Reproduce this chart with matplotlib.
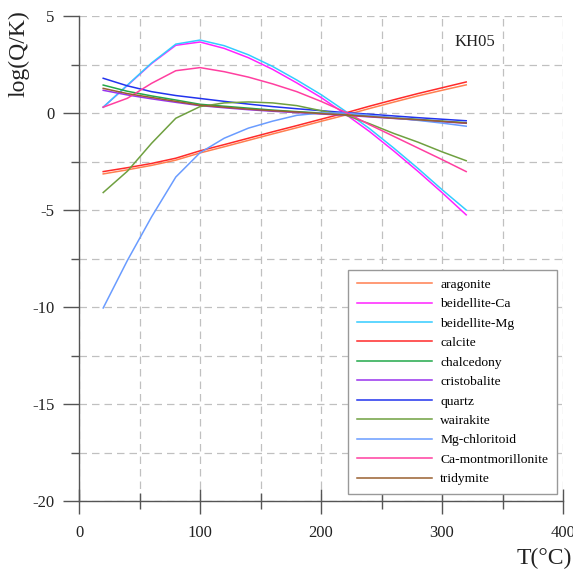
import matplotlib
matplotlib.use("Agg")
import matplotlib.pyplot as plt
from matplotlib.ticker import MultipleLocator

plt.rcParams['font.family'] = ['Liberation Serif', 'DejaVu Serif']
plt.rcParams['axes.unicode_minus'] = False

T = [20, 40, 60, 80, 100, 120, 140, 160, 180, 200, 220, 240, 260, 280, 300, 320]

aragonite = [-3.14, -2.93, -2.70, -2.43, -2.06, -1.74, -1.41, -1.08, -0.76, -0.43, -0.11, 0.23, 0.56, 0.88, 1.17, 1.45]
beidellite_ca = [0.30, 1.42, 2.55, 3.49, 3.66, 3.33, 2.85, 2.25, 1.55, 0.80, -0.05, -0.95, -1.95, -3.00, -4.10, -5.25]
beidellite_mg = [0.30, 1.44, 2.58, 3.55, 3.76, 3.47, 3.00, 2.40, 1.70, 0.95, 0.10, -0.80, -1.80, -2.85, -3.95, -5.00]
calcite = [-3.02, -2.82, -2.60, -2.33, -1.95, -1.63, -1.30, -0.97, -0.65, -0.32, 0.00, 0.35, 0.68, 1.00, 1.30, 1.60]
chalcedony = [1.44, 1.12, 0.88, 0.67, 0.45, 0.35, 0.25, 0.15, 0.07, 0.00, -0.07, -0.15, -0.25, -0.33, -0.42, -0.50]
cristobalite = [1.17, 0.93, 0.73, 0.55, 0.38, 0.27, 0.17, 0.09, 0.02, -0.05, -0.12, -0.20, -0.28, -0.36, -0.45, -0.53]
quartz = [1.79, 1.40, 1.10, 0.90, 0.75, 0.60, 0.46, 0.33, 0.22, 0.12, 0.02, -0.06, -0.15, -0.24, -0.32, -0.40]
wairakite = [-4.10, -3.00, -1.56, -0.27, 0.33, 0.52, 0.57, 0.52, 0.38, 0.12, -0.10, -0.55, -1.05, -1.50, -2.00, -2.46]
mg_chloritoid = [-10.05, -7.60, -5.35, -3.30, -2.05, -1.30, -0.78, -0.42, -0.12, 0.00, 0.00, -0.12, -0.25, -0.38, -0.52, -0.68]
ca_montmorillonite = [0.30, 0.76, 1.53, 2.18, 2.34, 2.13, 1.85, 1.50, 1.10, 0.60, 0.05, -0.60, -1.20, -1.80, -2.40, -3.02]
tridymite = [1.27, 1.00, 0.80, 0.60, 0.40, 0.30, 0.20, 0.12, 0.05, -0.03, -0.10, -0.18, -0.27, -0.35, -0.43, -0.52]

names = ["aragonite", "beidellite-Ca", "beidellite-Mg", "calcite", "chalcedony", "cristobalite",
         "quartz", "wairakite", "Mg-chloritoid", "Ca-montmorillonite", "tridymite"]
series = [aragonite, beidellite_ca, beidellite_mg, calcite, chalcedony, cristobalite,
          quartz, wairakite, mg_chloritoid, ca_montmorillonite, tridymite]
colors = ["#ff7f50", "#ff22ff", "#33ccff", "#ff2a2a", "#22a84a", "#9933ee",
          "#2233ee", "#6fa040", "#6a9cff", "#ff3fa0", "#9a6030"]

fig = plt.figure(figsize=(5.73, 5.72), dpi=100)
ax = fig.add_axes([79/573, 1-501/572, 484/573, 485/572])

for name, vals, c in zip(names, series, colors):
    ax.plot(T, vals, color=c, lw=1.1, label=name)

ax.set_xlim(0, 400)
ax.set_ylim(-20, 5)
ax.xaxis.set_major_locator(MultipleLocator(100))
ax.xaxis.set_minor_locator(MultipleLocator(50))
ax.yaxis.set_major_locator(MultipleLocator(5))
ax.yaxis.set_minor_locator(MultipleLocator(2.5))

ax.grid(which='both', color='#c0c0c0', linestyle=(0, (6, 4)), linewidth=0.9)
ax.set_axisbelow(True)

for s in ['top', 'right']:
    ax.spines[s].set_visible(False)
for s in ['left', 'bottom']:
    ax.spines[s].set_color('#555555')
    ax.spines[s].set_linewidth(1.0)

ax.tick_params(axis='x', which='major', direction='inout', length=18, width=1.0, color='#555555',
               labelsize=12, pad=8, labelcolor='#222222')
ax.tick_params(axis='x', which='minor', direction='inout', length=11, width=1.0, color='#555555')
ax.tick_params(axis='y', which='major', direction='out', length=11.5, width=1.0, color='#555555',
               labelsize=12, pad=6, labelcolor='#222222')
ax.tick_params(axis='y', which='minor', direction='out', length=6, width=1.0, color='#555555')

fig.text(0.998, 0.006, "T(°C)", ha='right', va='bottom', fontsize=17, color='#222222')
fig.text(0.015, 0.982, "log(Q/K)", ha='left', va='top', rotation=90, fontsize=17, color='#222222')

ax.text(327, 3.66, "KH05", ha='center', va='center', fontsize=12, color='#222222')

leg = ax.legend(loc='lower right', bbox_to_anchor=(0.9876, 0.0144), borderaxespad=0,
                fontsize=9.7, handlelength=5.6, handletextpad=0.6, labelspacing=0.52,
                borderpad=0.65, fancybox=False, framealpha=1, edgecolor='#999999')
leg.get_frame().set_linewidth(1.0)

fig.savefig("out.png", dpi=100)
